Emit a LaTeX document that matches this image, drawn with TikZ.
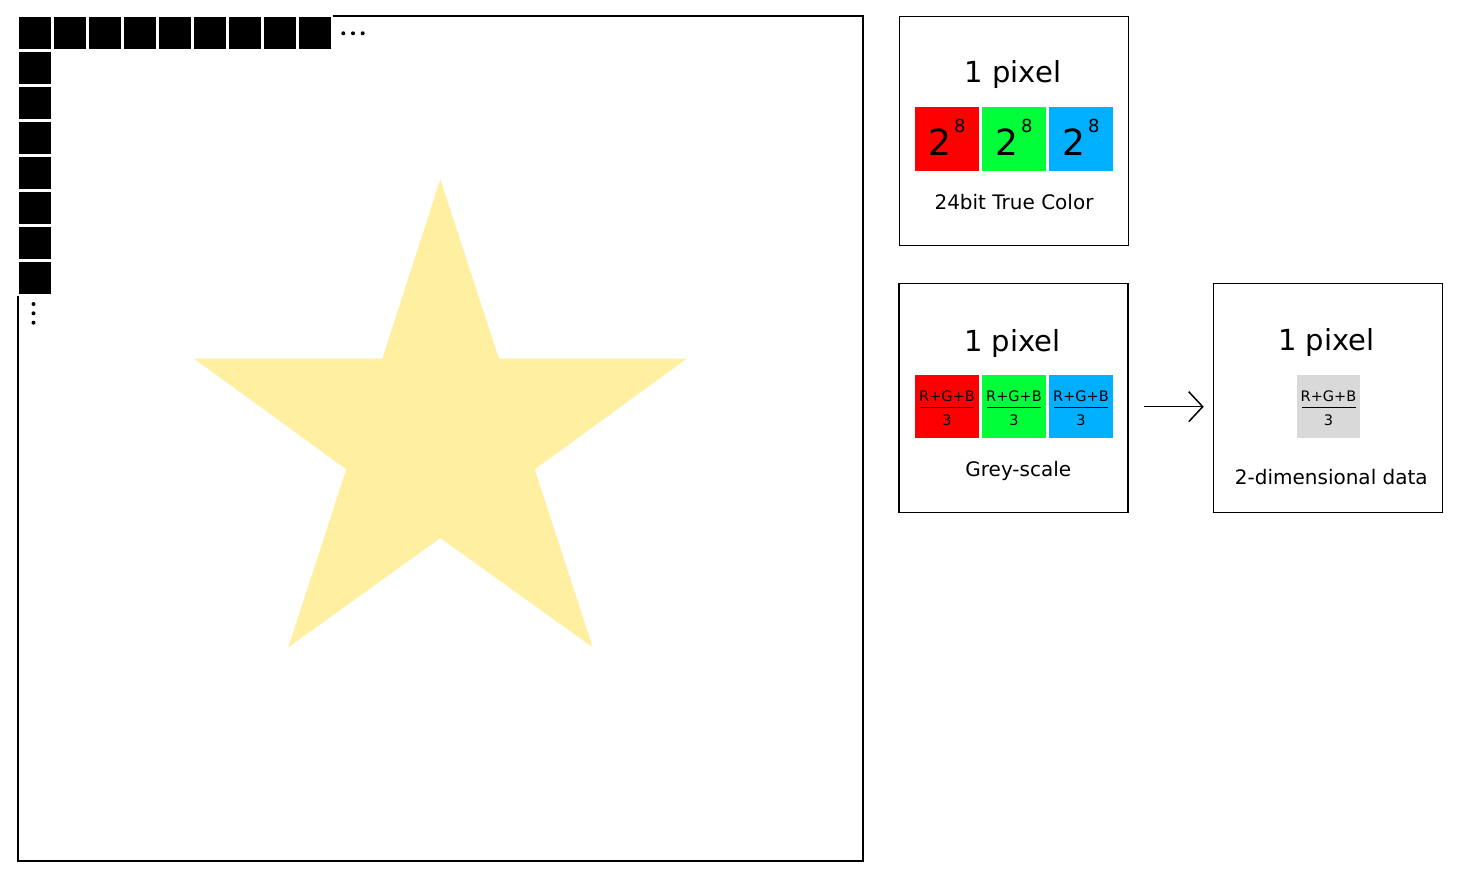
\documentclass[tikz,border=0pt]{standalone}
\usepackage{fontspec}
\setmainfont{DejaVu Sans}
\usetikzlibrary{arrows.meta}
\definecolor{pxred}{RGB}{255,0,0}
\definecolor{pxgreen}{RGB}{0,255,56}
\definecolor{pxblue}{RGB}{0,176,255}
\definecolor{pxgrey}{RGB}{217,217,217}
\definecolor{staryellow}{RGB}{255,239,160}
\begin{document}
\begin{tikzpicture}[x=1pt,y=-1pt,
  frame/.style={draw=black,line width=1.5pt},
  pxsq/.style={fill=black,minimum size=32pt,inner sep=0pt,outer sep=0pt},
  panel/.style={draw=black,line width=1.5pt,minimum width=229pt,minimum height=229pt,inner sep=0pt},
  chan/.style={minimum size=63.4pt,inner sep=0pt,outer sep=0pt},
  txt/.style={inner sep=0pt,anchor=base},
  title/.style={txt,font=\fontsize{29}{29}\selectfont},
  caption/.style={txt,font=\fontsize{20}{20}\selectfont},
  power/.style={txt,font=\fontsize{36}{36}\selectfont},
  frac/.style={txt,font=\fontsize{14.5}{14.5}\selectfont},
  fracline/.style={line width=1.2pt},
  dotmark/.style={fill=black}
]
\useasboundingbox (0,0) rectangle (1461,875);
\fill[white] (0,0) rectangle (1461,875);

% star
\fill[staryellow] (440.3,179.3) -- (499,358.7) -- (686.7,358.7) -- (534.7,469.3)
  -- (592.7,647.3) -- (440.3,538) -- (288.3,647.3) -- (346.3,469.3)
  -- (194,358.7) -- (382.3,358.7) -- cycle;

% image frame
\draw[frame] (333,16) -- (863,16) -- (863,861) -- (18,861) -- (18,296);

% pixel squares
\foreach \i in {0,...,8} \node[pxsq] (top\i) at (35+35*\i,33) {};
\foreach \j in {1,...,7} \node[pxsq] (left\j) at (35,33+35*\j) {};

% ellipses
\foreach \x in {343.3,353,362.7} \fill[dotmark] (\x,33.3) circle (2);
\foreach \y in {304,313.3,322.7} \fill[dotmark] (33.5,\y) circle (2);

% 24bit true color panel
\node[panel] (tc) at (1014,131) {};
\node[title] (tct) at (1013,82.7) {1 pixel};
\node[chan,fill=pxred] (tcr) at (947,139) {};
\node[chan,fill=pxgreen] (tcg) at (1014,139) {};
\node[chan,fill=pxblue] (tcb) at (1081,139) {};
\foreach \c in {tcr,tcg,tcb}
  \node[power] (\c p) at ([yshift=-16.7pt]\c.center) {2\hspace{3pt}\raisebox{23.7pt}{\fontsize{18}{18}\selectfont 8}};
\node[caption] (tcc) at (1014,209) {24bit True Color};

% grey-scale panel
\node[panel] (gs) at (1013.5,398) {};
\node[title] (gst) at (1012.5,351) {1 pixel};
\node[chan,fill=pxred] (gsr) at (947,406.7) {};
\node[chan,fill=pxgreen] (gsg) at (1014,406.7) {};
\node[chan,fill=pxblue] (gsb) at (1081,406.7) {};
\node[caption] (gsc) at (1018.3,476) {Grey-scale};

% 2-dimensional panel
\node[panel] (dd) at (1328,398) {};
\node[title] (ddt) at (1326.3,350.3) {1 pixel};
\node[chan,fill=pxgrey] (ddg) at (1328.5,406.7) {};
\node[caption] (ddc) at (1331.3,484) {2-dimensional data};

% fractions
\foreach \c in {gsr,gsg,gsb,ddg}{
  \node[frac] (\c n) at ([yshift=5pt]\c.center) {R+G+B};
  \draw[fracline] ([xshift=-27pt,yshift=-0.6pt]\c.center) -- ([xshift=27pt,yshift=-0.6pt]\c.center);
  \node[frac] (\c d) at ([yshift=-18.3pt]\c.center) {3};
}

% arrow
\coordinate (arrA) at (gs.east |- gsb.center);
\coordinate (arrB) at (dd.west |- gsb.center);
\draw[line width=1.5pt,-{Straight Barb[length=14pt,width=30pt]}]
  ([xshift=15.5pt]arrA) -- ([xshift=-9pt]arrB);
\end{tikzpicture}
\end{document}
